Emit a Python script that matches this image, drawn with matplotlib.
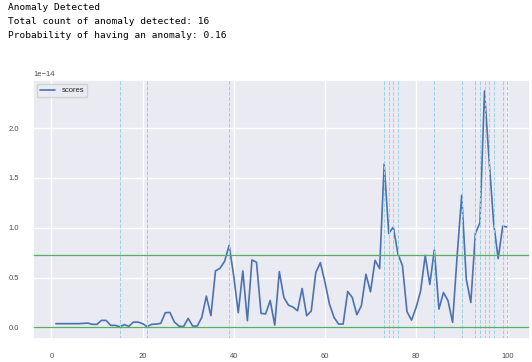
import numpy as np
import matplotlib
matplotlib.use('Agg')
import matplotlib.pyplot as plt
import seaborn as sns

# anomaly scores (units of 1e-14), x = 1..100
scores = [0.037, 0.037, 0.037, 0.037, 0.037, 0.037, 0.04, 0.043, 0.03, 0.03,
          0.07, 0.07, 0.02, 0.02, 0.007, 0.027, 0.01, 0.053, 0.053, 0.037,
          0.007, 0.03, 0.033, 0.04, 0.147, 0.15, 0.053, 0.013, 0.007, 0.09,
          0.013, 0.013, 0.1, 0.313, 0.117, 0.567, 0.593, 0.663, 0.823, 0.517,
          0.147, 0.567, 0.067, 0.677, 0.653, 0.14, 0.135, 0.27, 0.023, 0.56,
          0.3, 0.223, 0.203, 0.167, 0.39, 0.117, 0.163, 0.55, 0.65, 0.457,
          0.233, 0.1, 0.033, 0.033, 0.36, 0.3, 0.127, 0.217, 0.533, 0.357,
          0.673, 0.59, 1.64, 0.943, 1.007, 0.74, 0.62, 0.157, 0.073, 0.2,
          0.367, 0.723, 0.43, 0.777, 0.183, 0.35, 0.267, 0.05, 0.717, 1.327,
          0.483, 0.25, 0.943, 1.05, 2.373, 1.683, 1.05, 0.69, 1.017, 1.007]
index = list(range(1, 101))
anomalies = [15, 21, 39, 73, 74, 75, 76, 84, 90, 93, 94, 95, 96, 97, 99, 100]
upper = 0.73
lower = 0.0

sns.set_theme(style='darkgrid')
plt.rcParams['font.family'] = ['Liberation Sans', 'DejaVu Sans']

y = np.array(scores) * 1e-14

fig = plt.figure(figsize=(5.32, 3.62), dpi=100)
ax = fig.add_axes([0.0626, 0.0635, 0.9334, 0.7155])

ax.plot(index, y, color='#4C72B0', lw=1.2, label='scores')
for a in anomalies:
    ax.axvline(a, color='#9fd0e4', ls='--', lw=0.72, snap=True)
ax.axhline(upper * 1e-14, color='#55b062', lw=0.9, snap=True)
ax.axhline(lower * 1e-14, color='#55b062', lw=0.9, snap=True)

ax.set_xlim(-3.95, 104.95)
ax.set_ylim(-0.117e-14, 2.483e-14)
ax.set_xticks([0, 20, 40, 60, 80, 100])
ax.set_yticks(np.array([0.0, 0.5, 1.0, 1.5, 2.0]) * 1e-14)
ax.tick_params(labelsize=5.5, colors='.3', pad=4)
ax.yaxis.get_offset_text().set_fontsize(5.5)
ax.yaxis.get_offset_text().set_color('.3')
ax.legend(loc='upper left', fontsize=5.5, frameon=True)

txt = ['Anomaly Detected',
       'Total count of anomaly detected: 16',
       'Probability of having an anomaly: 0.16']
for i, t in enumerate(txt):
    fig.text(0.015, 1 - (8 + 14 * i) / 362, t, family='DejaVu Sans Mono',
             fontsize=6.8, va='center', ha='left', color='black')

fig.savefig('out.png', dpi=100)
